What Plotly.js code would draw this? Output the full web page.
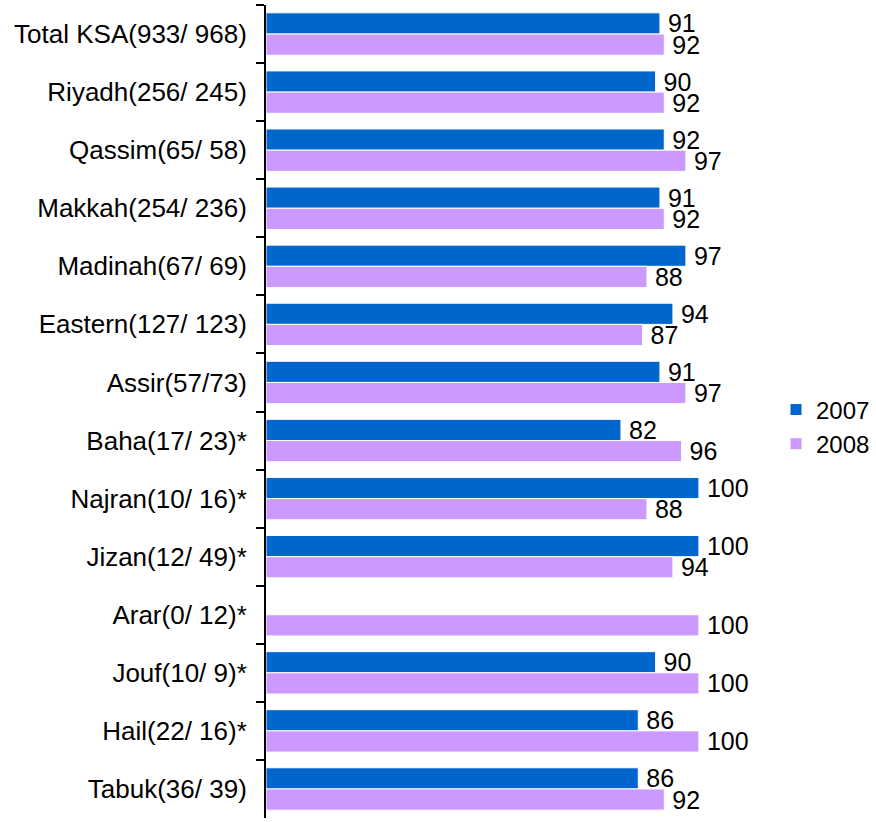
<!DOCTYPE html>
<html>
<head>
<meta charset="utf-8">
<script src="https://cdn.plot.ly/plotly-3.0.1.min.js"></script>
<style>
  html, body { margin: 0; padding: 0; background: #fff; }
  #chart { width: 876px; height: 822px; }
</style>
</head>
<body>
<div id="chart"></div>
<script>
// categories, top to bottom
let regions = ['Total KSA(933/ 968)', 'Riyadh(256/ 245)', 'Qassim(65/ 58)', 'Makkah(254/ 236)',
    'Madinah(67/ 69)', 'Eastern(127/ 123)', 'Assir(57/73)', 'Baha(17/ 23)*', 'Najran(10/ 16)*',
    'Jizan(12/ 49)*', 'Arar(0/ 12)*', 'Jouf(10/ 9)*', 'Hail(22/ 16)*', 'Tabuk(36/ 39)'];

let values2007 = [91, 90, 92, 91, 97, 94, 91, 82, 100, 100, null, 90, 86, 86];
let values2008 = [92, 92, 97, 92, 88, 87, 97, 96, 88, 94, 100, 100, 100, 92];

function barTrace(name, values, color) {
    return {
        type: 'bar',
        orientation: 'h',
        name: name,
        y: regions,
        x: values,
        marker: {color: color, line: {color: '#ffffff', width: 1}},
        text: values.map(function(v) { return v === null ? '' : '\u2009' + v; }),
        textposition: 'outside',
        constraintext: 'none',
        textfont: {family: 'Liberation Sans, Arial, sans-serif', size: 25, color: '#000'},
        cliponaxis: false,
        hoverinfo: 'x+y'
    };
}

let data = [
    barTrace('2007', values2007, '#0066CC'),
    barTrace('2008', values2008, '#CC99FF')
];

let layout = {
    width: 876,
    height: 822,
    margin: {l: 266, r: 110, t: 5, b: 4, autoexpand: false},
    paper_bgcolor: '#fff',
    plot_bgcolor: '#fff',
    barmode: 'group',
    bargap: 0.27,
    bargroupgap: 0,
    font: {family: 'Liberation Sans, Arial, sans-serif', size: 25, color: '#000'},
    xaxis: {
        range: [0, 115.5],
        visible: false,
        showgrid: false,
        zeroline: false
    },
    yaxis: {
        type: 'category',
        autorange: 'reversed',
        showline: true,
        linecolor: '#000',
        linewidth: 2,
        ticks: 'outside',
        tickson: 'boundaries',
        ticklen: 8,
        tickwidth: 2,
        tickcolor: '#000',
        ticklabelstandoff: 12,
        showgrid: false,
        zeroline: false,
        tickfont: {size: 26}
    },
    legend: {
        x: 1.02,
        xanchor: 'left',
        y: 0.481,
        yanchor: 'middle',
        font: {size: 24},
        itemwidth: 30,
        tracegroupgap: 0
    },
    showlegend: true
};

Plotly.newPlot('chart', data, layout, {displayModeBar: false, staticPlot: true});
</script>
</body>
</html>
